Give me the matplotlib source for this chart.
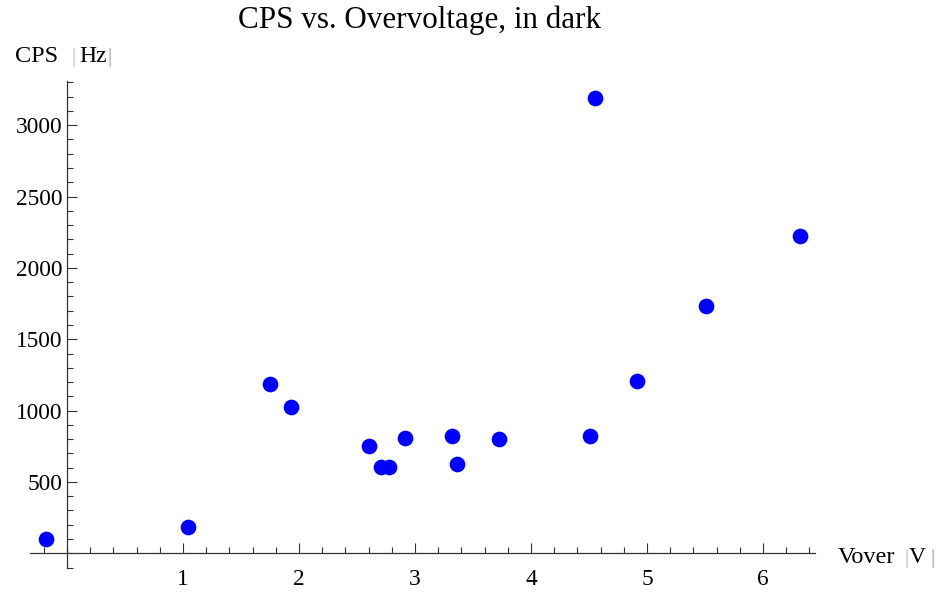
import matplotlib.pyplot as plt
from matplotlib.ticker import MultipleLocator, FixedLocator

plt.rcParams['font.family'] = ['Liberation Serif', 'DejaVu Serif']

########## Data ##########
vover = [-0.18, 1.04, 1.75, 1.93, 2.60, 2.71, 2.78, 2.91, 3.32, 3.36,
         3.72, 4.51, 4.55, 4.91, 5.51, 6.32]
cps = [98, 184, 1186, 1023, 750, 607, 607, 806, 822, 624,
       803, 822, 3193, 1205, 1733, 2226]

x_ticks = [1, 2, 3, 4, 5, 6]
y_ticks = [500, 1000, 1500, 2000, 2500, 3000]

########## Plot ##########
fig = plt.figure(figsize=(9.37, 5.96), dpi=100)
ax = fig.add_axes([0.0319, 0.0477, 0.8381, 0.8164])

ax.plot(vover, cps, 'o', color=(0, 0, 1), markersize=11.3,
        markeredgewidth=0, clip_on=False)

ax.set_xlim(-0.32, 6.45)
ax.set_ylim(-100, 3310)

# Mathematica-like axes crossing at the origin
for s in ['top', 'right']:
    ax.spines[s].set_visible(False)
ax.spines['left'].set_position(('data', 0))
ax.spines['bottom'].set_position(('data', 0))
for s in ['left', 'bottom']:
    ax.spines[s].set_color('#333333')
    ax.spines[s].set_linewidth(0.9)

ax.xaxis.set_major_locator(FixedLocator(x_ticks))
ax.xaxis.set_minor_locator(MultipleLocator(0.2))
ax.yaxis.set_major_locator(FixedLocator(y_ticks))
ax.yaxis.set_minor_locator(MultipleLocator(100))

ax.tick_params(which='both', direction='in', color='#333333', width=0.8,
               labelsize=16.8)
ax.tick_params(which='major', length=7)
ax.tick_params(which='minor', length=4.3)
ax.tick_params(axis='x', which='major', pad=11)
ax.tick_params(axis='y', which='major', pad=3)

# title, placed like the original
fig.text(420 / 937, 1 - 28 / 596, "CPS vs. Overvoltage, in dark",
         fontsize=22.4, ha='center', va='baseline')

# axis labels placed like in the original
fig.text(15 / 937, 1 - 62 / 596, "CPS", fontsize=17.5, va='baseline')
fig.text(71 / 937, 1 - 62 / 596, "|", fontsize=15, color='#bbbbbb', va='baseline')
fig.text(79 / 937, 1 - 62 / 596, "Hz", fontsize=17, va='baseline')
fig.text(107.5 / 937, 1 - 62 / 596, "|", fontsize=15, color='#999999', va='baseline')

fig.text(838 / 937, 1 - 563 / 596, "Vover", fontsize=17.5, va='baseline')
fig.text(904 / 937, 1 - 563 / 596, "|", fontsize=15, color='#bbbbbb', va='baseline')
fig.text(909 / 937, 1 - 563 / 596, "V", fontsize=17, va='baseline')
fig.text(930.5 / 937, 1 - 563 / 596, "|", fontsize=15, color='#999999', va='baseline')

plt.savefig("out.png", dpi=100)
